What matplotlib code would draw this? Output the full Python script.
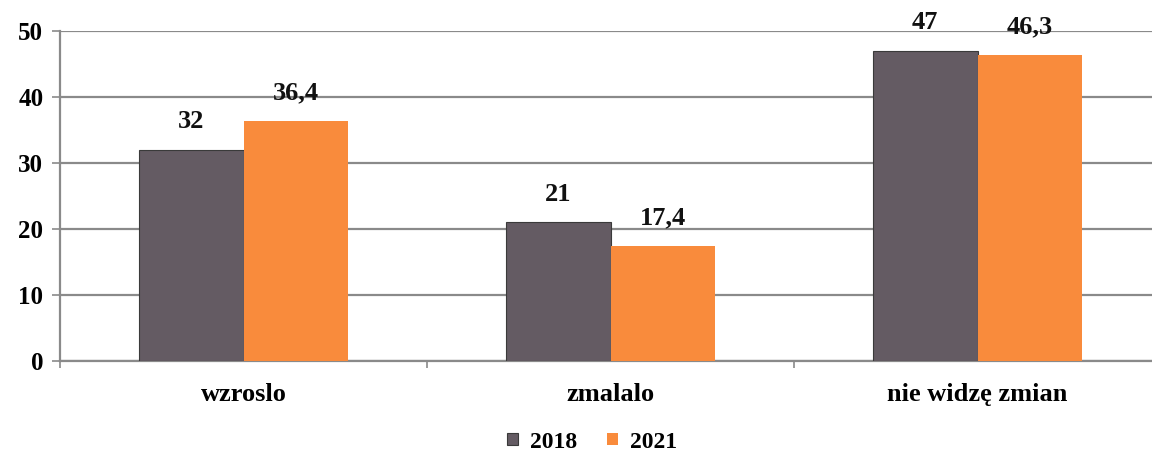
import matplotlib
matplotlib.use("Agg")
import matplotlib.pyplot as plt
import numpy as np

categories = ["wzroslo", "zmalalo", "nie widzę zmian"]
series_names = ["2018", "2021"]
values_2018 = [32, 21, 47]
values_2021 = [36.4, 17.4, 46.3]
labels_2018 = ["32", "21", "47"]
labels_2021 = ["36,4", "17,4", "46,3"]
yticks = [0, 10, 20, 30, 40, 50]

plt.rcParams['font.family'] = ['Liberation Serif', 'DejaVu Serif']
plt.rcParams['font.weight'] = 'bold'

fig = plt.figure(figsize=(11.52, 4.57), dpi=100)
W, H = 1152, 457
ax = fig.add_axes([60 / W, (H - 361) / H, 1101 / W, 330 / H])

x = np.arange(len(categories))
bw = 0.285
c1 = "#645b63"
c2 = "#f98b3c"
b1 = ax.bar(x - bw / 2, values_2018, bw, color=c1, edgecolor="#3a3a3a", linewidth=0.8, label=series_names[0], zorder=3)
b2 = ax.bar(x + bw / 2, values_2021, bw, color=c2, edgecolor=c2, linewidth=0.0, label=series_names[1], zorder=3)

for bars, labs in ((b1, labels_2018), (b2, labels_2021)):
    for rect, lab in zip(bars, labs):
        ax.annotate(lab, (rect.get_x() + rect.get_width() / 2, rect.get_height()),
                    xytext=(0, 12), textcoords="offset points", ha="center", va="bottom",
                    fontsize=19, fontweight="bold", color="#111111")

ax.set_xlim(-0.5, 2.5)
ax.set_ylim(0, 50)
ax.set_yticks(yticks)
ax.set_yticklabels([str(t) for t in yticks], fontsize=18, fontweight="bold")
ax.yaxis.grid(True, color="#8a8a8a", linewidth=1.6, zorder=0)
ax.set_axisbelow(True)

ax.set_xticks(x)
ax.set_xticklabels(categories, fontsize=19, fontweight="bold")
ax.set_xticks([-0.5, 0.5, 1.5, 2.5], minor=True)
ax.tick_params(axis="x", which="major", length=0, pad=16)
ax.tick_params(axis="x", which="minor", length=5, color="#8a8a8a", width=1.2)
ax.tick_params(axis="y", length=6, color="#8a8a8a", width=1.2, pad=6)

for s in ["top", "right"]:
    ax.spines[s].set_visible(False)
for s in ["left", "bottom"]:
    ax.spines[s].set_color("#8a8a8a")
    ax.spines[s].set_linewidth(1.6)

fig.legend(handles=[b1, b2], labels=series_names, loc="center", bbox_to_anchor=(592 / W, (H - 442) / H),
           ncol=2, frameon=False, handlelength=0.45, handleheight=0.45,
           handletextpad=0.5, columnspacing=1.3, prop={"weight": "bold", "size": 17})

fig.savefig("out.png", dpi=100, facecolor="white")
